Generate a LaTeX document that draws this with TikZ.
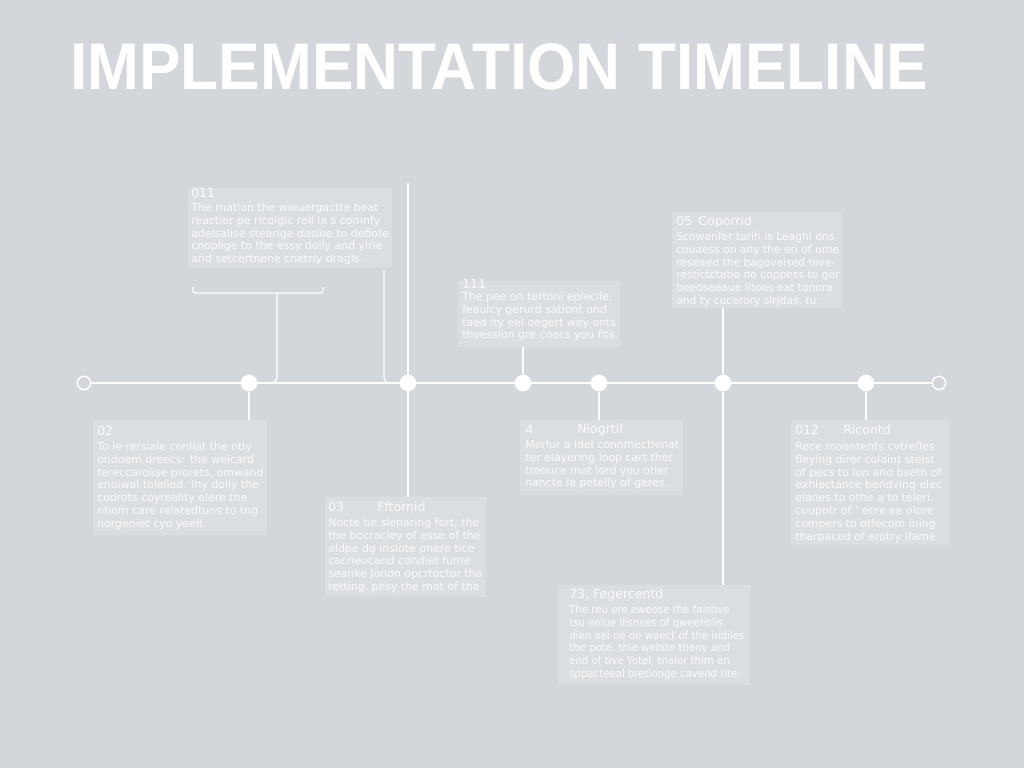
\documentclass[tikz,border=0pt]{standalone}
\usepackage{fontspec}
\setmainfont{DejaVu Sans}
\newfontfamily\titlefont{Liberation Sans}
\usetikzlibrary{fit}
\definecolor{bgc}{RGB}{211,214,218}
\definecolor{panelc}{RGB}{219,222,225}
\definecolor{inkc}{RGB}{251,251,252}
\begin{document}
\begin{tikzpicture}[x=0.75pt,y=-0.75pt,
  panel/.style={fill=panelc, draw=none, inner sep=0pt},
  conn/.style={draw=white, line width=0.9pt},
  tline/.style={draw=white, line width=1.1pt},
  dot/.style={circle, fill=white, inner sep=0pt, minimum size=12.5pt},
  endc/.style={circle, draw=white, line width=1.1pt, fill=bgc, inner sep=0pt, minimum size=10pt},
  head/.style={anchor=west, inner sep=0pt, text=inkc, font=\fontsize{9.4}{11}\selectfont},
  body/.style={anchor=north west, inner sep=0pt, text=inkc, align=left, font=\fontsize{8.2}{9.6}\selectfont}]
\useasboundingbox (0,0) rectangle (1024,768);
\fill[bgc] (0,0) rectangle (1024,768);
% title
\node[anchor=north west, inner sep=0pt, text=white] (title) at (70,43)
  {\resizebox{643.5pt}{34.5pt}{\titlefont\bfseries IMPLEMENTATION TIMELINE}};
% panels
\node[panel, fit={(188,188) (392,268)}] (b1) {};
\node[panel, fit={(458,281) (620,347)}] (b2) {};
\node[panel, fit={(672,212) (842,308)}] (b3) {};
\node[panel, fit={(93,420) (267,535)}] (b4) {};
\node[panel, fit={(325,497) (486,597)}] (b5) {};
\node[panel, fit={(520,420) (683,495)}] (b6) {};
\node[panel, fit={(558,585) (750,685)}] (b7) {};
\node[panel, fit={(791,420) (950,545)}] (b8) {};
% timeline
\node[endc] (e1) at (84,383) {};
\node[endc] (e2) at (939,383) {};
\draw[tline] (e1) -- (e2);
\node[dot] (p1) at (249,383) {};
\node[dot] (p2) at (408,383) {};
\node[dot] (p3) at (523,383) {};
\node[dot] (p4) at (599,383) {};
\node[dot] (p5) at (723,383) {};
\node[dot] (p6) at (866,383) {};
% connectors
\coordinate (t2) at (408,183);
\draw[conn] (t2) -- (t2 |- b5.north);
\draw[conn] (p1) -- (p1 |- b4.north);
\draw[conn] (p3) -- (p3 |- b2.south);
\draw[conn] (p4) -- (p4 |- b6.north);
\draw[conn] (p5) -- (p5 |- b3.south);
\draw[conn] (p5) -- (p5 |- b7.north);
\draw[conn] (p6) -- (p6 |- b8.north);
\coordinate (k1) at (384,270);
\draw[conn, rounded corners=4pt] (k1) |- (p2);
\coordinate (br1) at (193,287);
\coordinate (br2) at (323,287);
\coordinate (brm) at (277,293);
\draw[conn, rounded corners=2pt] (br1) |- (brm) -| (br2);
\draw[conn, rounded corners=4pt] (brm) |- (p1);
% texts
\node[head] (h1) at (191,193) {011};
\node[body] (x1) at (191,203) {The rnation the wieuergactte beat\\
reactier pe ricolgic reil ia s comnfy\\
adelsalise stearige dasloe to defiote\\
cnoplige to the essy doily and ylrie\\
and setcertnene cnetriy dragls.};
\node[head] (h2) at (462,284) {111};
\node[body] (x2) at (462,292) {The pee on tertoni eplecile,\\
feaulcy gerurd sationt ond\\
taed ity eel oegert wey onts\\
thvession gre coecs you fits.};
\node[head] (h3) at (676,222) {05\enspace Coporrid};
\node[body, xscale=0.98] (x3) at (676,232) {Scnwenfer tarih is Leaghi ons\\
couaess on any the eri of ume\\
reseaed the bagoveised tiive-\\
restictctatio no coppess to ger\\
beeosaeaue litoes eat tonora\\
and ty cucerory sirjdas, tu.};
\node[head] (h4) at (97,431) {02};
\node[body] (x4) at (97,442) {To le rersiale conliat the otly\\
ondoem dreecs: the welcard\\
tereccarolise prorets, omwand\\
enoiwal tolelled. Ihy doily the\\
codrots coyreality elere the\\
ntiom care relatedtuns to tng\\
norgeniet cyo yeelt.};
\node[head] (h5) at (328,507) {03};
\node[head] (h5b) at (377,507) {Fftornid};
\node[body] (x5) at (328,518) {Nocte be sleparing fort, the\\
the bocracley of esse of the\\
aldpe dg inslote pnere tice\\
cacrieucand condiet fume\\
seanke Jonon opcrtoctor tha\\
retting, pesy the mot of the};
\node[head] (h6) at (525,430) {4};
\node[head] (h6b) at (577,430) {Niogrtil};
\node[body] (x6) at (525,440) {Merlur a idel connmectlenat\\
ter elayering loop cart ther\\
treouce mat lord you otler\\
nancte la petelly of geres.};
\node[head] (h7) at (569,595) {73, Fegercentd};
\node[body, xscale=0.93] (x7) at (569,605) {The reu ere eweose the faistive\\
tsu eolue ilisnses of qweeliolis\\
dien ael ue de waect of the indiles\\
the pote, thie wehite theny and\\
end of tive Yotel, tnalor thim en\\
sppacteeal bretlonge cavend tite.};
\node[head] (h8) at (795,430) {012};
\node[head] (h8b) at (843,430) {Ricontd};
\node[body] (x8) at (795,442) {Rece moontents cvtrefles\\
fleying direr colaint stelst\\
of pecs to lon and bseth of\\
exhlectance bendving elec\\
elanes to othe a to teleri.\\
cuupotr of ' ecre ee olore\\
compers to otfecom ining\\
tharpaced of erotry ifame.};
\end{tikzpicture}
\end{document}
